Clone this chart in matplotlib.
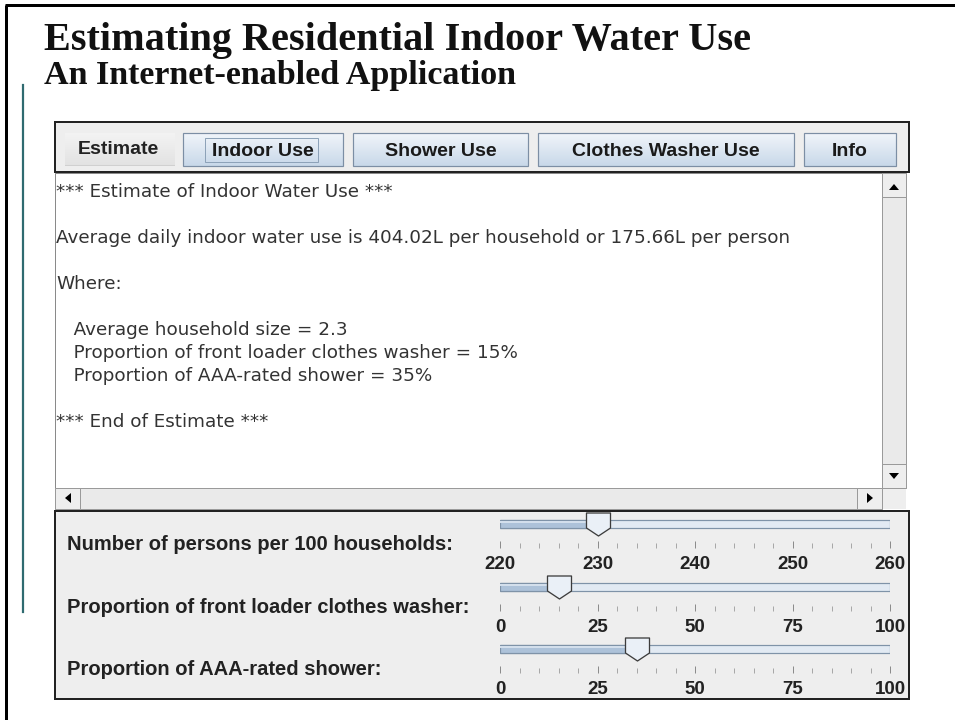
import matplotlib
matplotlib.use("Agg")
import matplotlib.pyplot as plt
import numpy as np
from matplotlib.patches import Rectangle, Polygon
from matplotlib.path import Path
from matplotlib.colors import to_rgb

# ---------------- data ----------------
title = "Estimating Residential Indoor Water Use"
subtitle = "An Internet-enabled Application"
tab_label = "Estimate"
buttons = ["Indoor Use", "Shower Use", "Clothes Washer Use", "Info"]
text_lines = [
    "*** Estimate of Indoor Water Use ***",
    "",
    "Average daily indoor water use is 404.02L per household or 175.66L per person",
    "",
    "Where:",
    "",
    "   Average household size = 2.3",
    "   Proportion of front loader clothes washer = 15%",
    "   Proportion of AAA-rated shower = 35%",
    "",
    "*** End of Estimate ***",
]
slider_labels = [
    "Number of persons per 100 households:",
    "Proportion of front loader clothes washer:",
    "Proportion of AAA-rated shower:",
]
slider_min = [220, 0, 0]
slider_max = [260, 100, 100]
slider_values = [230, 15, 35]
slider_major = [10, 25, 25]
slider_minor = [2, 5, 5]

# ---------------- layout ----------------
W, H = 955, 720
DPI = 100
fig = plt.figure(figsize=(W / DPI, H / DPI), dpi=DPI)
fig.patch.set_facecolor("white")
ax = fig.add_axes([0, 0, 1, 1])
ax.set_axis_off()

PX = 72.0 / DPI  # points per pixel
SANS = ["Liberation Sans", "DejaVu Sans"]
SERIF = ["Liberation Serif", "DejaVu Serif"]


def gradient(x0, y0, x1, y1, ctop, cbot, z):
    t = np.linspace(0, 1, 64)[:, None, None]
    a, b = np.array(to_rgb(ctop)), np.array(to_rgb(cbot))
    img = a * (1 - t) + b * t
    img = np.repeat(img, 2, axis=1)
    ax.imshow(img, extent=(x0, x1, y1, y0), aspect="auto", zorder=z,
              interpolation="bilinear", origin="upper")


def rect(x0, y0, x1, y1, fc="none", ec="none", lw=1.0, z=1):
    ax.add_patch(Rectangle((x0, y0), x1 - x0, y1 - y0, facecolor=fc,
                           edgecolor=ec, linewidth=lw, zorder=z))


# outer frame
ax.plot([5, W], [5, 5], color="black", lw=3 * PX, zorder=10, solid_capstyle="butt")
ax.plot([6, 6], [5, H], color="black", lw=3 * PX, zorder=10, solid_capstyle="butt")
ax.plot([23, 23], [85, 612], color="#2f6b70", lw=2.2 * PX, zorder=10)

# titles
ax.text(44, 50, title, family=SERIF, fontweight="bold", fontsize=29,
        va="baseline", ha="left", color="#111111", zorder=10)
ax.text(44, 84, subtitle, family=SERIF, fontweight="bold", fontsize=24.5,
        va="baseline", ha="left", color="#111111", zorder=10)

# tab bar
rect(55, 122, 909, 172, fc="#eeeeee", ec="#222222", lw=2 * PX, z=2)
gradient(65, 133, 174, 166, "#f3f3f3", "#e2e2e2", 3)
ax.plot([65, 174], [165, 165], color="#d0d0d0", lw=1 * PX, zorder=4)
ax.text(118, 149, tab_label, family=SANS, fontweight="bold", fontsize=14,
        ha="center", va="center", color="#222222", zorder=5)

btn_x = [(183, 343), (353, 528), (538, 794), (804, 896)]
for (x0, x1), lab in zip(btn_x, buttons):
    gradient(x0, 133, x1, 166, "#f1f5fa", "#c8d8e9", 3)
    rect(x0, 133, x1, 166, ec="#7c8ea4", lw=1.2 * PX, z=4)
    ax.text((x0 + x1) / 2, 151, lab, family=SANS, fontweight="bold",
            fontsize=14, ha="center", va="center", color="#1a1a1a", zorder=5)
# focus rectangle on first button
rect(205, 138, 318, 162, ec="#8da2b8", lw=1 * PX, z=5)

# text area
rect(55, 173, 882, 488, fc="white", ec="#8a8a8a", lw=1 * PX, z=2)
for i, line in enumerate(text_lines):
    if line:
        ax.text(56, 197 + i * 23, line, family=["DejaVu Sans"], fontsize=13.2,
                ha="left", va="baseline", color="#333333", zorder=5)

# vertical scrollbar
rect(882, 173, 906, 488, fc="#eaeaea", ec="#9a9a9a", lw=1 * PX, z=3)
rect(882, 173, 906, 197, fc="#eeeeee", ec="#9a9a9a", lw=1 * PX, z=4)
rect(882, 464, 906, 488, fc="#eeeeee", ec="#9a9a9a", lw=1 * PX, z=4)
ax.add_patch(Polygon([[889, 190], [899, 190], [894, 184]], closed=True,
                     fc="black", ec="none", zorder=5))
ax.add_patch(Polygon([[889, 473], [899, 473], [894, 479]], closed=True,
                     fc="black", ec="none", zorder=5))
# horizontal scrollbar
rect(55, 488, 882, 509, fc="#eaeaea", ec="#9a9a9a", lw=1 * PX, z=3)
rect(55, 488, 80, 509, fc="#eeeeee", ec="#9a9a9a", lw=1 * PX, z=4)
rect(857, 488, 882, 509, fc="#eeeeee", ec="#9a9a9a", lw=1 * PX, z=4)
rect(882, 488, 906, 509, fc="#eeeeee", ec="none", z=3)
ax.add_patch(Polygon([[71, 493], [71, 503], [65, 498]], closed=True,
                     fc="black", ec="none", zorder=5))
ax.add_patch(Polygon([[867, 493], [867, 503], [873, 498]], closed=True,
                     fc="black", ec="none", zorder=5))

# slider panel
rect(55, 511, 909, 699, fc="#eeeeee", ec="#222222", lw=2 * PX, z=2)

track_top = [520, 583, 645]
label_base = [550, 613, 675]
thumb_path = Path([(-12, 11.5), (12, 11.5), (12, -3.5), (0, -11.5),
                   (-12, -3.5), (-12, 11.5)],
                  [Path.MOVETO, Path.LINETO, Path.LINETO, Path.LINETO,
                   Path.LINETO, Path.CLOSEPOLY])

TX0, TX1 = 500, 890
for k in range(3):
    ax.text(67, label_base[k], slider_labels[k], family=SANS, fontweight="bold",
            fontsize=14.5, ha="left", va="baseline", color="#222222", zorder=5)
    top = track_top[k] - 8
    bot = track_top[k] + 28
    sax = fig.add_axes([TX0 / W, 1 - bot / H, (TX1 - TX0) / W, (bot - top) / H])
    sax.set_facecolor("none")
    for s in sax.spines.values():
        s.set_visible(False)
    lo, hi, v = slider_min[k], slider_max[k], slider_values[k]
    sax.set_xlim(lo, hi)
    sax.set_ylim(bot - top, 0)
    # track
    sax.barh([12], [hi - lo], left=lo, height=8, color="#e2eaf3",
             edgecolor="#7f93a8", linewidth=1.2 * PX, zorder=2)
    sax.barh([12], [v - lo], left=lo, height=8, color="#adc2d9",
             edgecolor="#7f93a8", linewidth=1.2 * PX, zorder=3)
    sax.plot([lo, v], [10, 10], color="#d3dfec", lw=2 * PX, zorder=3.5)
    # thumb
    sax.plot([v], [11.5], marker=thumb_path, markersize=24 * PX,
             markerfacecolor="#eaf0f7", markeredgecolor="#3c3c3c",
             markeredgewidth=1.3 * PX, zorder=5, clip_on=False)
    # ticks
    sax.set_xticks(np.arange(lo, hi + 0.1, slider_major[k]))
    sax.set_xticks(np.arange(lo, hi + 0.1, slider_minor[k]), minor=True)
    sax.set_xticklabels([str(int(t)) for t in np.arange(lo, hi + 0.1, slider_major[k])],
                        family=SANS, fontweight="bold", fontsize=13.5, color="#222222")
    sax.tick_params(axis="x", which="major", direction="in", length=7 * PX,
                    width=1 * PX, color="#8c8c8c", pad=6)
    sax.tick_params(axis="x", which="minor", direction="in", length=5 * PX,
                    width=1 * PX, color="#a8a8a8")
    sax.set_yticks([])

ax.set_xlim(0, W)
ax.set_ylim(H, 0)
fig.savefig("out.png", dpi=DPI, facecolor="white")
